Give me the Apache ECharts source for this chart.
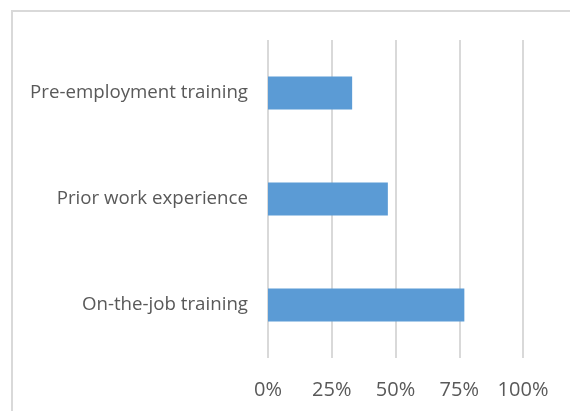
<!DOCTYPE html>
<html>
<head>
<meta charset="utf-8">
<script src="https://cdn.jsdelivr.net/npm/echarts@6/dist/echarts.min.js"></script>
<style>
html,body{margin:0;padding:0;background:#fff;}
#main{width:570px;height:411px;}
</style>
</head>
<body>
<div id="main"></div>
<script>
const categories = ['Pre-employment training', 'Prior work experience', 'On-the-job training'];
const values = [33, 47, 77];
const tickValues = [0, 25, 50, 75, 100];

const chart = echarts.init(document.getElementById('main'), null, {renderer: 'canvas'});
const FONT = 'Open Sans';
chart.setOption({
  animation: false,
  backgroundColor: '#ffffff',
  graphic: [{
    type: 'rect',
    shape: {x: 12, y: 11, width: 700, height: 500},
    style: {fill: 'none', stroke: '#d9d9d9', lineWidth: 2},
    silent: true
  }],
  grid: {left: 268, right: 47, top: 40, bottom: 53},
  xAxis: {
    type: 'value',
    min: tickValues[0],
    max: tickValues[tickValues.length - 1],
    interval: tickValues[1] - tickValues[0],
    axisLine: {show: false},
    axisTick: {show: false},
    splitLine: {show: true, lineStyle: {color: '#d9d9d9', width: 2}},
    axisLabel: {
      formatter: '{value}%',
      color: '#595959',
      fontFamily: FONT,
      fontSize: 20,
      margin: 22
    }
  },
  yAxis: {
    type: 'category',
    inverse: true,
    data: categories,
    axisLine: {show: false},
    axisTick: {show: false},
    axisLabel: {
      color: '#595959',
      fontFamily: FONT,
      fontSize: 18.7,
      margin: 20
    }
  },
  series: [{
    type: 'bar',
    data: values,
    barWidth: 33,
    itemStyle: {color: '#5b9bd5'}
  }]
});
</script>
</body>
</html>
